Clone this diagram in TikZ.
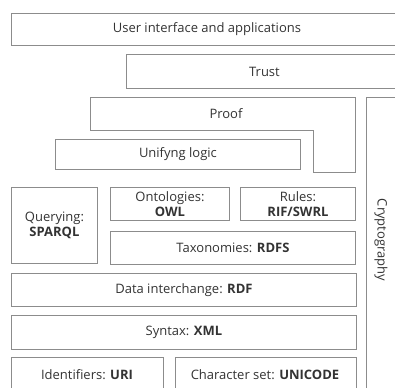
\documentclass[tikz,border=0pt]{standalone}
\usepackage{fontspec}
\setmainfont{Open Sans}
\definecolor{linegray}{HTML}{8C8C8C}
\definecolor{textgray}{HTML}{333333}
\begin{document}
\begin{tikzpicture}[x=1pt,y=-1pt,
  layer/.style={draw=linegray, line width=0.9pt, rectangle, inner sep=0pt,
    anchor=north west, text=textgray, align=center,
    font=\fontsize{13}{15}\selectfont},
  frame/.style={draw=linegray, line width=0.9pt},
  caption/.style={text=textgray, inner sep=0pt, align=center,
    font=\fontsize{13}{15}\selectfont}]
\useasboundingbox (0,0) rectangle (395,387);
\clip (0,0) rectangle (395,387);

% top layers, running past the right edge
\node[layer, minimum width=391pt, minimum height=32pt] (ui) at (11,13) {User interface and applications};
\node[layer, minimum width=276pt, minimum height=34pt] (trust) at (126,54) {Trust};

% proof wraps around the right end of unifying logic
\coordinate (p1) at (90,97);
\coordinate (p2) at (355,97);
\coordinate (p3) at (355,172);
\coordinate (p4) at (313,172);
\coordinate (p5) at (313,130);
\coordinate (p6) at (90,130);
\draw[frame] (p1) -- (p2) -- (p3) -- (p4) -- (p5) -- (p6) -- cycle;
\node[caption] (proof) at (226,114) {Proof};

\node[layer, minimum width=245pt, minimum height=30pt] (logic) at (55,139) {Unifyng logic};

% vertical cryptography column
\node[layer, minimum width=40pt, minimum height=300pt] (crypto) at (366,97) {};
\node[caption, rotate=-90] (cryptotext) at (381,240) {Cryptography};

% ontology, rules and query layers
\node[layer, minimum width=86pt, minimum height=76pt] (query) at (11,187) {Querying:\\\textbf{SPARQL}};
\node[layer, minimum width=119pt, minimum height=33pt] (owl) at (110,187) {Ontologies:\\\textbf{OWL}};
\node[layer, minimum width=115pt, minimum height=33pt] (rules) at (240,187) {Rules:\\\textbf{RIF/SWRL}};
\node[layer, minimum width=245pt, minimum height=33pt] (rdfs) at (110,231) {Taxonomies: \textbf{RDFS}};

% base layers
\node[layer, minimum width=345pt, minimum height=33pt] (rdf) at (11,273) {Data interchange: \textbf{RDF}};
\node[layer, minimum width=345pt, minimum height=34pt] (xml) at (11,315) {Syntax: \textbf{XML}};
\node[layer, minimum width=152pt, minimum height=40pt] (uri) at (11,357) {};
\node[caption] (uritext) at (87,375) {Identifiers: \textbf{URI}};
\node[layer, minimum width=181pt, minimum height=40pt] (unicode) at (175,357) {};
\node[caption] (unicodetext) at (265,375) {Character set: \textbf{UNICODE}};
\end{tikzpicture}
\end{document}
